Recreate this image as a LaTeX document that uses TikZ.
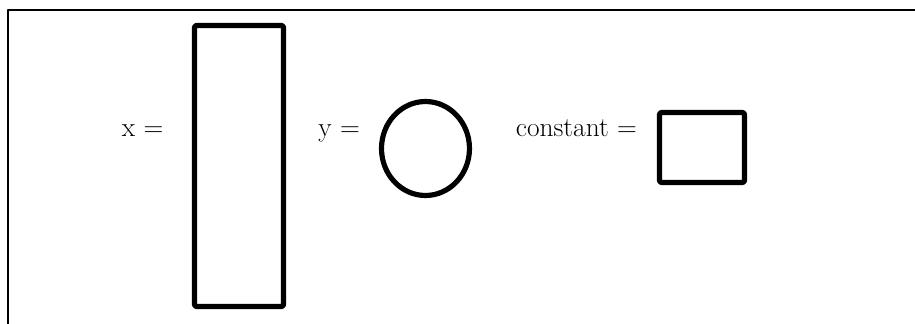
\documentclass[tikz,border=0pt]{standalone}
\usepackage{tikz}
\usetikzlibrary{shapes.geometric}

\begin{document}
\begin{tikzpicture}[line join=round,
  shp/.style={draw,line width=4.9pt,inner sep=0pt},
  rbox/.style={shp,rectangle,rounded corners=1.5pt},
  lbl/.style={anchor=base east,inner sep=0pt,font=\fontsize{26}{30}\selectfont}]
\useasboundingbox(0,0)rectangle(30.5,-10.8);
% frame, open at right and bottom
\draw[line width=1.4pt](0.267,-10.8)--(0.267,-0.333)--(30.5,-0.333);
% the three shapes
\node[rbox,minimum width=2.967cm,minimum height=9.367cm](xbox)at(7.967,-5.533){};
\node[shp,ellipse,minimum width=2.933cm,minimum height=3.133cm](ybox)at(14.183,-4.95){};
\node[rbox,minimum width=2.833cm,minimum height=2.333cm](cbox)at(23.4,-4.917){};
% labels
\node[lbl](xlbl)at(5.45,-4.55){x =};
\node[lbl](ylbl)at(12.0,-4.55){y =};
\node[lbl](clbl)at(21.233,-4.55){constant =};
\end{tikzpicture}
\end{document}
